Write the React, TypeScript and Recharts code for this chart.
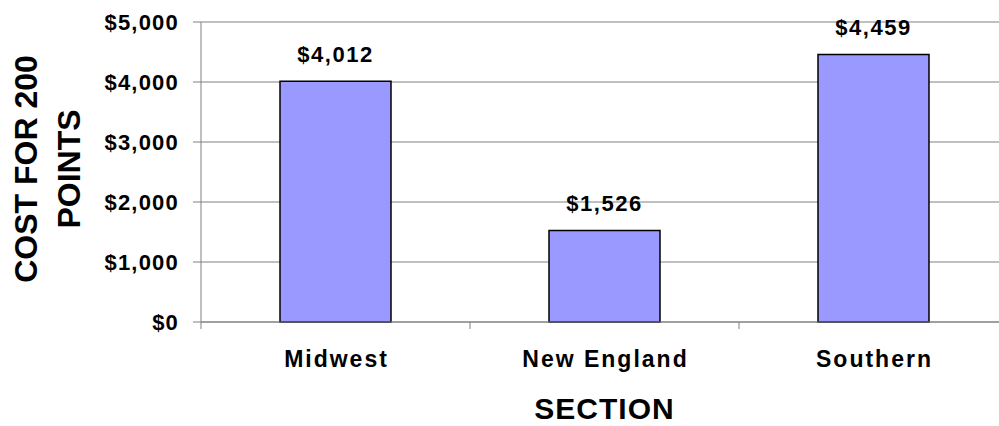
import React from 'react';
import { BarChart, Bar, XAxis, YAxis, CartesianGrid, LabelList, Label } from 'recharts';

const categories = ['Midwest', 'New England', 'Southern'];
const costs = [4012, 1526, 4459];
const yTicks = [0, 1000, 2000, 3000, 4000, 5000];
const yTitleLines = ['COST FOR 200', 'POINTS'];
const xTitle = 'SECTION';

const data = categories.map((c, i) => ({ section: c, cost: costs[i] }));

const CHART_W = 1040;
const CHART_H = 426;
const MARGIN = { top: 22, right: 32, bottom: 0, left: 0 };
const Y_AXIS_W = 201;
const X_AXIS_H = 104;
const PLOT_W = CHART_W - MARGIN.left - MARGIN.right - Y_AXIS_W;
const CAT_W = PLOT_W / categories.length;
const FONT = '"Liberation Sans", Arial, Helvetica, sans-serif';
const GRID = '#808080';

const fmt = (v: number) => '$' + Number(v).toLocaleString('en-US');

const XTick = (props: any) => {
  const { x, y, payload, index } = props;
  const half = CAT_W / 2;
  return (
    <g>
      <line x1={x - half} y1={y} x2={x - half} y2={y + 7} stroke={GRID} strokeWidth={1} />
      {index === categories.length - 1 && (
        <line x1={x + half} y1={y} x2={x + half} y2={y + 7} stroke={GRID} strokeWidth={1} />
      )}
      <text
        x={x + 1}
        y={y + 45}
        textAnchor="middle"
        fontFamily={FONT}
        fontWeight="bold"
        fontSize={23}
        fill="#000"
        style={{ letterSpacing: '2px' }}
      >
        {payload.value}
      </text>
    </g>
  );
};

const YTitle = (props: any) => {
  const vb = props.viewBox || {};
  const cy = (vb.y ?? MARGIN.top) + (vb.height ?? 300) / 2 - 3;
  const xs = [37, 80];
  return (
    <g>
      {yTitleLines.map((t, i) => (
        <text
          key={t}
          x={xs[i]}
          y={cy}
          transform={`rotate(-90, ${xs[i]}, ${cy})`}
          textAnchor="middle"
          fontFamily={FONT}
          fontWeight="bold"
          fontSize={32}
          fill="#000"
        >
          {t}
        </text>
      ))}
    </g>
  );
};

const XTitle = (props: any) => {
  const vb = props.viewBox || {};
  const cx = (vb.x ?? Y_AXIS_W) + (vb.width ?? PLOT_W) / 2;
  return (
    <text
      x={cx}
      y={419}
      textAnchor="middle"
      fontFamily={FONT}
      fontWeight="bold"
      fontSize={30}
      fill="#000"
      style={{ letterSpacing: '1px' }}
    >
      {xTitle}
    </text>
  );
};

export default function App() {
  return (
    <div style={{ position: 'absolute', left: 0, top: 0, width: 999, height: 426, overflow: 'hidden', background: '#fff' }}>
      <BarChart width={CHART_W} height={CHART_H} data={data} margin={MARGIN}>
        <CartesianGrid vertical={false} stroke={GRID} strokeWidth={1} />
        <XAxis
          dataKey="section"
          height={X_AXIS_H}
          axisLine={{ stroke: GRID, strokeWidth: 1 }}
          tickLine={false}
          tickSize={0}
          tickMargin={0}
          tick={<XTick />}
          interval={0}
        >
          <Label content={<XTitle />} />
        </XAxis>
        <YAxis
          width={Y_AXIS_W}
          domain={[0, 5000]}
          ticks={yTicks}
          interval={0}
          tickFormatter={fmt}
          axisLine={{ stroke: GRID, strokeWidth: 1 }}
          tickLine={{ stroke: GRID, strokeWidth: 1 }}
          tickSize={8}
          tickMargin={14}
          tick={{ fill: '#000', fontSize: 22, fontWeight: 'bold', fontFamily: FONT, style: { letterSpacing: '1.2px' } }}
        >
          <Label content={<YTitle />} />
        </YAxis>
        <Bar dataKey="cost" fill="#9999FF" stroke="#000" strokeWidth={1.5} barSize={111} isAnimationActive={false}>
          <LabelList
            dataKey="cost"
            position="top"
            offset={19}
            formatter={fmt as any}
            fill="#000"
            fontSize={22}
            fontWeight="bold"
            fontFamily={FONT}
            style={{ letterSpacing: '1.5px' }}
          />
        </Bar>
      </BarChart>
    </div>
  );
}
